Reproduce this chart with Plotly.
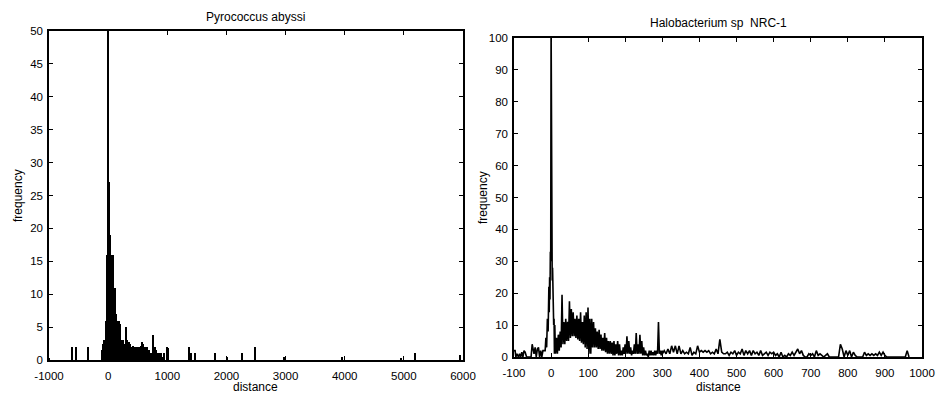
import numpy as np
import plotly.graph_objects as go

# ---------------- Left panel: Pyrococcus abyssi (histogram bars) ----------------
left_core_start = -100
left_core_step = 20
left_core_y = [1.5, 2.5, 3, 6, 16, 60, 27, 19, 16, 16, 11, 11, 7, 6, 6, 5.5, 3, 2.5, 3, 2.5,
               5, 3, 2.8, 2.8, 2.5, 2, 2.2, 2, 2, 2, 2, 2, 2, 2.2, 2.8, 2.5, 2, 1, 2, 0.5,
               1.5, 1, 0.5, 3.8, 1, 2, 1.5, 1, 1, 1, 1, 0.5, 1, 0, 0, 2, 1.8]
left_sparse_x = [-990, -610, -545, -345, 1370, 1410, 1480, 1810, 2010, 2270, 2480, 2980, 3950, 4950, 5200, 5950]
left_sparse_y = [0.3, 2, 2, 2, 2, 1, 1, 1, 0.5, 1, 2, 0.5, 0.5, 0.3, 1, 0.7]

left_xticks = [-1000, 0, 1000, 2000, 3000, 4000, 5000, 6000]
left_xticktext = ["-1000", "0", "1000", "2000", "3000", "4000", "5000", "6000"]
left_yticks = [0, 5, 10, 15, 20, 25, 30, 35, 40, 45, 50]

# ---------------- Right panel: Halobacterium sp NRC-1 (line) ----------------
right_a_x = [-100, -97, -95, -92, -88, -85, -82, -79, -76, -73, -70, -66, -62, -58, -54, -51, -49,
             -46, -43, -40, -37, -34, -31, -28, -25, -22, -19, -16, -14, -12, -10, -8, -6, -5, -4,
             -3, -2, -1, 0, 1, 2, 3, 4, 5, 6, 7, 8, 9, 10, 11]
right_a_y = [2, 2, 0, 1, 0, 1, 0, 1.5, 0, 2, 1.5, 0, 0, 0, 0, 4, 2,
             1, 3, 0, 2.5, 3, 0, 2, 0, 2, 2, 2, 6, 3, 12, 8, 22, 14, 25,
             18, 33, 30, 105, 64, 30, 24, 28, 15, 20, 10, 12, 1, 10, 5]

right_b_start = 12
right_b_step = 2.5
right_b_y = [1, 6, 1, 7, 2, 8, 3, 19.5, 4, 11, 4, 12, 5, 11, 5, 17.5, 6, 15, 6.5, 14,
             6.5, 12, 6, 13, 5.5, 12, 5, 14, 4.5, 11, 4, 13, 3, 14, 2.5, 15.5, 1, 12, 1, 12,
             3, 11, 3, 9, 3, 8, 2.5, 8.5, 2.5, 7, 2, 6, 2, 7.5, 1.5, 6, 1, 5, 1, 5,
             1, 4.5, 0.5, 5, 0.5, 4, 1, 5, 0.5, 4, 0.5, 2, 0.5, 3, 1, 4, 1, 6.5, 1, 5,
             1, 3, 0.5, 2, 1, 4, 1, 7.5, 1, 4, 1, 7, 1, 5, 0.5, 3, 0.5, 2, 0.5, 1,
             0, 2, 0.5, 2, 0.5, 1.5, 0.5, 2, 0.5, 2, 1, 11, 1, 2, 0.5, 2]

right_c_start = 300
right_c_step = 5
right_c_y = [1, 2, 1, 2.5, 1, 3.5, 1.5, 3.5, 1, 3.5, 1, 2, 1, 1.5, 1, 3, 0.5, 1.5, 1, 3.5,
             1.5, 2, 1.5, 2, 1.5, 2, 1, 1.5, 1, 2.5, 1, 5.5, 1.5, 1, 1, 1.5, 0.5, 1.5, 1, 2,
             0.5, 1.5, 1, 2.5, 0.5, 2, 1, 2, 0.5, 2, 1, 1.5, 0.5, 2, 0.5, 1, 1.5, 0.5, 1.5, 1,
             1.5, 0.5, 1, 0, 1.5, 0, 0.5, 0, 1, 0.5, 1.5, 0.5, 1.5, 2.5, 1, 2, 0.5, 0, 0, 1,
             0.5, 1, 0, 2, 0.5, 1, 0.5, 0, 0.5, 1, 0, 0, 0, 0, 0, 0, 4, 2.5, 0, 2,
             0.5, 2, 0, 1.5, 0.5, 0, 0, 0, 0, 1.5, 0.5, 1, 0.5, 1, 0.5, 1, 0.5, 1.5, 0.5, 1.5,
             0.5, 0, 0, 0, 0, 0, 0, 0, 0, 0, 0, 0, 2, 0]

right_xticks = [-100, 0, 100, 200, 300, 400, 500, 600, 700, 800, 900, 1000]
right_xticktext = ["-100", "0", "100", "200", "300", "400", "500", "600", "700", "800", "900", "1000"]
right_yticks = [0, 10, 20, 30, 40, 50, 60, 70, 80, 90, 100]

# ---------------- Build traces ----------------
left_core_x = [left_core_start + left_core_step * i for i in range(len(left_core_y))]
left_x = left_core_x + left_sparse_x
left_y = left_core_y + left_sparse_y

right_b_x = [right_b_start + right_b_step * i for i in range(len(right_b_y))]
right_c_x = [right_c_start + right_c_step * i for i in range(len(right_c_y))]
right_x = right_a_x + right_b_x + right_c_x
right_y = right_a_y + right_b_y + right_c_y

FONT = "Liberation Sans, Arial, sans-serif"

fig = go.Figure()
fig.add_trace(go.Bar(x=left_x, y=left_y, width=24, marker=dict(color="black", line=dict(width=0)),
                     xaxis="x", yaxis="y", showlegend=False))
fig.add_trace(go.Scatter(x=right_x, y=right_y, mode="lines", line=dict(color="black", width=1.6),
                         xaxis="x2", yaxis="y2", showlegend=False))

axis_common = dict(showgrid=False, zeroline=False, showline=True, linecolor="black", linewidth=1.5,
                   mirror="ticks", ticks="inside", ticklen=4, tickcolor="black", automargin=False,
                   tickfont=dict(family=FONT, size=11.5, color="black"))

fig.update_layout(
    width=947, height=393,
    margin=dict(l=0, r=0, t=0, b=0),
    paper_bgcolor="white", plot_bgcolor="white",
    bargap=0,
    xaxis=dict(domain=[49 / 947, 463 / 947], range=[-1000, 6000], tickvals=left_xticks,
               ticktext=left_xticktext, anchor="y", ticklabelstandoff=4, **axis_common),
    yaxis=dict(domain=[(393 - 360) / 393, (393 - 31) / 393], range=[0, 50], tickvals=left_yticks,
               anchor="x", ticklabelstandoff=2, **axis_common),
    xaxis2=dict(domain=[514 / 947, 922 / 947], range=[-100, 1000], tickvals=right_xticks,
                ticktext=right_xticktext, anchor="y2", ticklabelstandoff=4, **axis_common),
    yaxis2=dict(domain=[(393 - 357) / 393, (393 - 38) / 393], range=[0, 100], tickvals=right_yticks,
                anchor="x2", ticklabelstandoff=2, **axis_common),
)

ann_font = dict(family=FONT, size=12, color="black")
fig.add_annotation(text="Pyrococcus abyssi", x=256 / 947, y=1 - 17 / 393, xref="paper", yref="paper",
                   showarrow=False, font=ann_font, xanchor="center", yanchor="middle")
fig.add_annotation(text="Halobacterium sp  NRC-1", x=718 / 947, y=1 - 23 / 393, xref="paper", yref="paper",
                   showarrow=False, font=ann_font, xanchor="center", yanchor="middle")
fig.add_annotation(text="distance", x=256 / 947, y=1 - 386.5 / 393, xref="paper", yref="paper",
                   showarrow=False, font=ann_font, xanchor="center", yanchor="middle")
fig.add_annotation(text="distance", x=718 / 947, y=1 - 386.5 / 393, xref="paper", yref="paper",
                   showarrow=False, font=ann_font, xanchor="center", yanchor="middle")
fig.add_annotation(text="frequency", x=18 / 947, y=1 - 196 / 393, xref="paper", yref="paper",
                   showarrow=False, font=ann_font, textangle=-90, xanchor="center", yanchor="middle")
fig.add_annotation(text="frequency", x=483 / 947, y=1 - 198 / 393, xref="paper", yref="paper",
                   showarrow=False, font=ann_font, textangle=-90, xanchor="center", yanchor="middle")

fig.write_html("out.html", config={"displayModeBar": False},
               post_script="document.body.style.margin='0';")
